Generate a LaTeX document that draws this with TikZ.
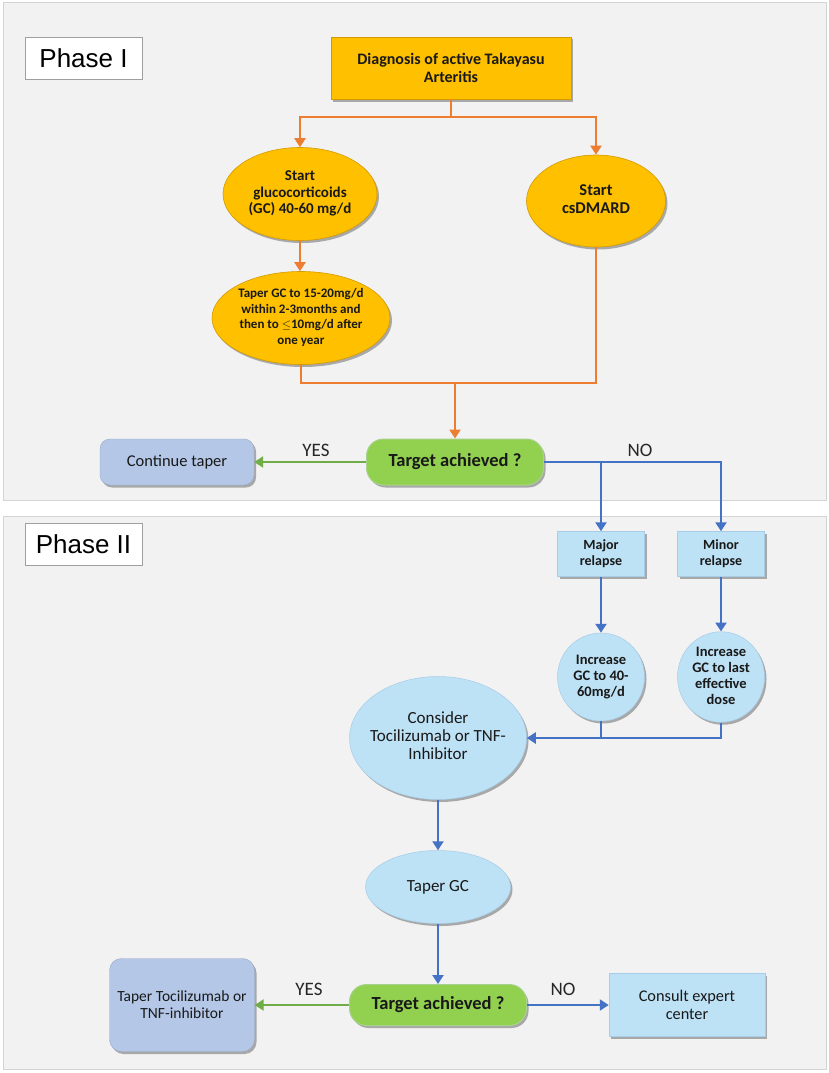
\documentclass[tikz,border=0pt]{standalone}
\usepackage{fontspec}
\setmainfont{Carlito}
\newfontfamily\phasefont{Liberation Sans}
\usepackage{tikz}
\usetikzlibrary{shapes.geometric,arrows.meta,shadows}

\definecolor{panelgray}{HTML}{F2F2F2}
\definecolor{panelline}{HTML}{D4D4D4}
\definecolor{gold}{HTML}{FFC000}
\definecolor{goldline}{HTML}{D39B00}
\definecolor{orangeline}{HTML}{ED7D31}
\definecolor{greenfill}{HTML}{92D050}
\definecolor{greenedge}{HTML}{A9D18E}
\definecolor{greenline}{HTML}{70AD47}
\definecolor{steelfill}{HTML}{B4C7E7}
\definecolor{skyfill}{HTML}{BDE1F5}
\definecolor{skyedge}{HTML}{A7CDE8}
\definecolor{blueline}{HTML}{4472C4}

% text of an oval, centred on a zero-width box
\newcommand{\ovaltext}[1]{\makebox[0pt]{\begin{tabular}{@{}c@{}}#1\end{tabular}}}

\tikzset{
  panel/.style={fill=panelgray, draw=panelline, line width=1pt},
  phasebox/.style={draw=gray!75, fill=white, line width=0.8pt,
    minimum width=117pt, minimum height=42pt, inner sep=0pt},
  dropshade/.style={drop shadow={shadow xshift=2pt, shadow yshift=-2.5pt, opacity=0.3, fill=black}},
  goldnode/.style={fill=gold, draw=goldline, line width=0.6pt, dropshade, inner sep=0pt, text=black!90},
  skynode/.style={fill=skyfill, draw=skyedge, line width=0.5pt, dropshade, inner sep=0pt, text=black!90},
  steelnode/.style={fill=steelfill, draw=steelfill!85!black, line width=0.4pt, dropshade, inner sep=0pt, text=black!90},
  targetnode/.style={fill=greenfill, draw=greenedge, line width=1pt, dropshade, inner sep=0pt,
    rounded corners=17pt, minimum width=177pt, text=black!90},
  oline/.style={draw=orangeline, line width=2.5pt},
  bline/.style={draw=blueline, line width=2.5pt},
  gline/.style={draw=greenline, line width=2.5pt},
  yesno/.style={text=black!85, font=\fontsize{19}{22}\selectfont}
}

\begin{document}
\begin{tikzpicture}[x=1pt, y=-1pt, >={Triangle[width=11pt,length=9pt]}]

    %page and phases
    \fill[white] (0,0) rectangle (829,1073);
    \useasboundingbox (0,0) rectangle (829,1073);
    \draw[panel] (3,3) rectangle (826,500);
    \draw[panel] (3,516) rectangle (826,1069);
    \node[phasebox, font=\phasefont\fontsize{26}{30}\selectfont] (phaseI) at (83.5,58) {Phase I};
    \node[phasebox, font=\phasefont\fontsize{26}{30}\selectfont] (phaseII) at (83.5,544) {Phase II};

    %phase I
    \node[goldnode, rectangle, minimum width=240pt, minimum height=62pt, align=center,
      font=\fontsize{16}{18}\selectfont\bfseries] (diag) at (451,68) {Diagnosis of active Takayasu\\Arteritis};
    \node[goldnode, ellipse, minimum width=154pt, minimum height=93pt,
      font=\fontsize{15}{16.5}\selectfont\bfseries] (gc) at (300,194) {\ovaltext{Start\\glucocorticoids\\(GC) 40-60 mg/d}};
    \node[goldnode, ellipse, minimum width=139pt, minimum height=92pt,
      font=\fontsize{16.5}{18}\selectfont\bfseries] (dmard) at (596,201) {\ovaltext{Start\\csDMARD}};
    \node[goldnode, ellipse, minimum width=178pt, minimum height=93pt,
      font=\fontsize{13}{15.5}\selectfont\bfseries] (taper) at (301,318)
      {\ovaltext{Taper GC to 15-20mg/d\\within 2-3months and\\then to $\leq$10mg/d after\\one year}};
    \node[targetnode, minimum height=46pt, font=\fontsize{18.5}{20}\selectfont\bfseries] (target) at (455,462) {Target achieved ?};
    \node[steelnode, rounded corners=10pt, minimum width=154pt, minimum height=46pt,
      font=\fontsize{16.5}{18}\selectfont] (cont) at (177,462) {Continue taper};
    \node[yesno] (yesI) at (316,450) {YES};
    \node[yesno] (noI) at (640,450) {NO};

    %phase II
    \node[skynode, minimum width=87pt, minimum height=45pt, align=center,
      font=\fontsize{14}{16}\selectfont\bfseries] (major) at (601,554) {Major\\relapse};
    \node[skynode, minimum width=87pt, minimum height=45pt, align=center,
      font=\fontsize{14}{16}\selectfont\bfseries] (minor) at (721,554) {Minor\\relapse};
    \node[skynode, ellipse, minimum width=87pt, minimum height=88pt,
      font=\fontsize{14.5}{16}\selectfont\bfseries] (incmaj) at (601,677) {\ovaltext{Increase\\GC to 40-\\60mg/d}};
    \node[skynode, ellipse, minimum width=87pt, minimum height=88pt,
      font=\fontsize{14.5}{16}\selectfont\bfseries] (incmin) at (721,677) {\ovaltext{Increase\\GC to last\\effective\\dose}};
    \node[skynode, ellipse, minimum width=177pt, minimum height=123pt,
      font=\fontsize{17}{18}\selectfont] (consider) at (438,738) {\ovaltext{Consider\\Tocilizumab or TNF-\\Inhibitor}};
    \node[skynode, ellipse, minimum width=145pt, minimum height=73pt,
      font=\fontsize{17}{18}\selectfont] (tapergc) at (438,887) {Taper GC};
    \node[targetnode, minimum height=41pt, font=\fontsize{18.5}{20}\selectfont\bfseries] (targetII) at (438,1005) {Target achieved ?};
    \node[steelnode, rounded corners=12pt, minimum width=145pt, minimum height=93pt, align=center,
      font=\fontsize{15.5}{17}\selectfont] (tapertoc) at (182,1005) {Taper Tocilizumab or\\TNF-inhibitor};
    \node[skynode, minimum width=156pt, minimum height=63pt, align=center,
      font=\fontsize{16.3}{17.5}\selectfont] (consult) at (687,1005) {Consult expert\\center};
    \node[yesno] (yesII) at (309,989) {YES};
    \node[yesno] (noII) at (563,989) {NO};

    %orange connectors
    \coordinate (split) at (451,117);
    \coordinate (merge) at (455,383);
    \draw[oline] (diag) -- (split);
    \draw[oline,->] (split) -| (gc.north);
    \draw[oline,->] (split) -| (dmard.north);
    \draw[oline,->] (gc.south) -- (gc.south |- taper.north);
    \draw[oline] (taper.south) |- (merge);
    \draw[oline] (dmard.south) |- (merge);
    \draw[oline,->] (merge) -- (target.north);

    %yes / no
    \draw[gline,->] (target) -- (cont);
    \coordinate (fork) at (major.north |- target.east);
    \draw[bline,->] (target.east) -| (minor.north);
    \draw[bline,->] (fork) -- (major.north);

    %blue connectors
    \draw[bline,->] (major) -- (incmaj);
    \draw[bline,->] (minor.south) -- (minor.south |- incmin.north);
    \draw[bline,->] (incmaj.south) |- (consider.east);
    \draw[bline] (incmin.south) |- (incmaj.south |- consider.east);
    \draw[bline,->] (consider) -- (tapergc);
    \draw[bline,->] (tapergc) -- (targetII);
    \draw[gline,->] (targetII) -- (tapertoc);
    \draw[bline,->] (targetII) -- (consult);

\end{tikzpicture}
\end{document}
